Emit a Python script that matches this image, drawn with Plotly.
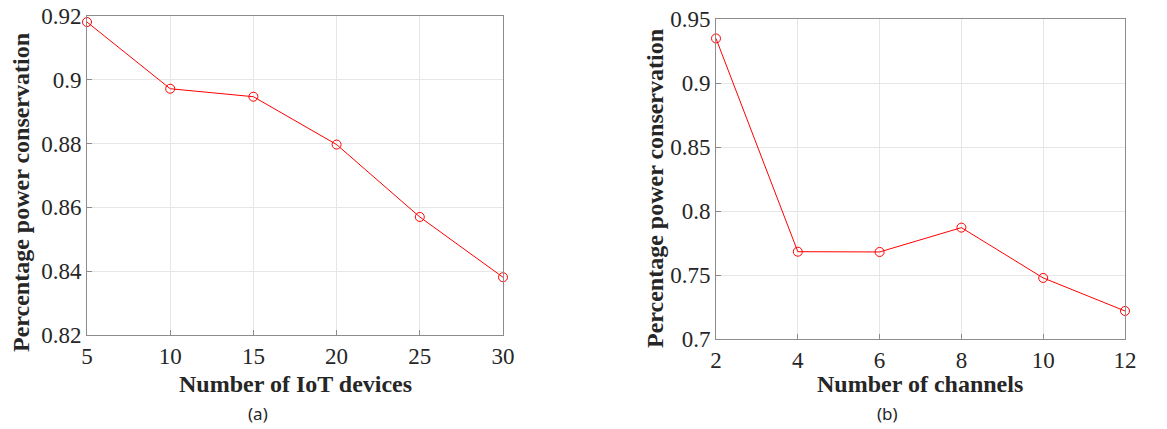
import plotly.graph_objects as go

devices = [5, 10, 15, 20, 25, 30]
cons_devices = [0.9181, 0.8972, 0.8947, 0.8797, 0.8570, 0.8381]
channels = [2, 4, 6, 8, 10, 12]
cons_channels = [0.9348, 0.7682, 0.7680, 0.7870, 0.7477, 0.7219]

# page body has an 8px default margin; figure sized to fit the 1167x429 viewport
OFF = 8
W, H = 1167 - OFF, 429 - OFF
RED = "#ff0000"
SERIF = "Liberation Serif, Times New Roman, serif"

fig = go.Figure()
fig.add_trace(go.Scatter(x=devices, y=cons_devices, mode="lines+markers",
                         line=dict(color=RED, width=1),
                         marker=dict(symbol="circle-open", size=9, color=RED, line=dict(width=1)),
                         xaxis="x", yaxis="y", showlegend=False, cliponaxis=False))
fig.add_trace(go.Scatter(x=channels, y=cons_channels, mode="lines+markers",
                         line=dict(color=RED, width=1),
                         marker=dict(symbol="circle-open", size=9, color=RED, line=dict(width=1)),
                         xaxis="x2", yaxis="y2", showlegend=False, cliponaxis=False))

def px_x(p):
    return (p - OFF) / W

def px_y(p):
    return 1 - (p - OFF) / H

ax_common = dict(showline=True, linecolor="#8c8c8c", linewidth=1, mirror=True,
                 showgrid=True, gridcolor="#e6e6e6", gridwidth=1,
                 ticks="inside", ticklen=5, tickcolor="#8c8c8c",
                 tickfont=dict(family=SERIF, size=23, color="#262626"),
                 ticklabeloverflow="allow",
                 zeroline=False, automargin=False)

fig.update_layout(
    width=W, height=H,
    margin=dict(l=0, r=0, t=0, b=0),
    paper_bgcolor="white", plot_bgcolor="white",
    xaxis=dict(domain=[px_x(87), px_x(503)], range=[5, 30], tickvals=devices,
               anchor="y", **ax_common),
    yaxis=dict(domain=[px_y(335), px_y(16)], range=[0.82, 0.92],
               tickvals=[0.82, 0.84, 0.86, 0.88, 0.9, 0.92],
               ticktext=["0.82", "0.84", "0.86", "0.88", "0.9", "0.92"],
               anchor="x", **ax_common),
    xaxis2=dict(domain=[px_x(716), px_x(1125)], range=[2, 12], tickvals=channels,
                anchor="y2", **ax_common),
    yaxis2=dict(domain=[px_y(339), px_y(19)], range=[0.7, 0.95],
                tickvals=[0.7, 0.75, 0.8, 0.85, 0.9, 0.95],
                ticktext=["0.7", "0.75", "0.8", "0.85", "0.9", "0.95"],
                anchor="x2", **ax_common),
)

title_font = dict(family=SERIF, size=24, color="#262626")
annots = [
    dict(text="<b>Number of IoT devices</b>", x=px_x(295), y=px_y(384), font=title_font),
    dict(text="<b>Number of channels</b>", x=px_x(920), y=px_y(384), font=title_font),
    dict(text="<b>Percentage power conservation</b>", x=px_x(21), y=px_y(193), font=title_font, textangle=-90),
    dict(text="<b>Percentage power conservation</b>", x=px_x(655), y=px_y(189), font=title_font, textangle=-90),
    dict(text="(a)", x=px_x(258), y=px_y(413), font=dict(family="Noto Sans, sans-serif", size=17, color="#262626")),
    dict(text="(b)", x=px_x(887), y=px_y(413), font=dict(family="Noto Sans, sans-serif", size=17, color="#262626")),
]
for a in annots:
    fig.add_annotation(xref="paper", yref="paper", showarrow=False,
                       xanchor="center", yanchor="middle", **a)

fig.write_html("out.html")
